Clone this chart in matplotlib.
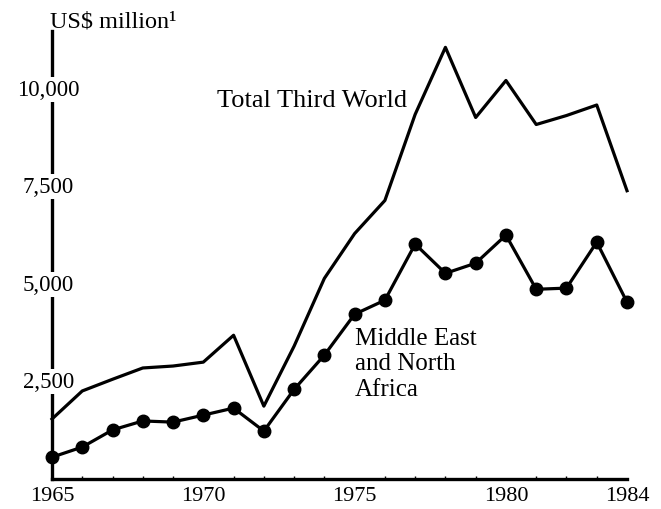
import matplotlib.pyplot as plt

# ── Données ──────────────────────────────────────────────────────────────────
YEARS = list(range(1965, 1985))
TOTAL_THIRD_WORLD = [1540, 2260, 2560, 2850, 2900, 3000, 3690, 1870, 3410, 5150,
                     6300, 7150, 9360, 11080, 9280, 10230, 9100, 9330, 9600, 7400]
MIDDLE_EAST_NA = [560, 820, 1260, 1490, 1460, 1640, 1820, 1230, 2300, 3180,
                  4230, 4590, 6030, 5280, 5540, 6260, 4870, 4900, 6080, 4540]
YTICKS = [2500, 5000, 7500, 10000]
YTICK_LABELS = ["2,500", "5,000", "7,500", "10,000"]
XTICKS = [1965, 1970, 1975, 1980, 1984]

plt.rcParams["font.family"] = ["Liberation Serif", "DejaVu Serif"]

W, H = 661, 510
fig = plt.figure(figsize=(W / 100, H / 100), dpi=100)
ax = fig.add_axes([52 / W, 30 / H, (627 - 52) / W, 448 / H])

ax.plot(YEARS, TOTAL_THIRD_WORLD, color="black", linewidth=2.3, clip_on=False)
ax.plot(YEARS, MIDDLE_EAST_NA, color="black", linewidth=2.3, marker="o",
        markersize=9, clip_on=False)

ax.set_xlim(1965, 1984)
ax.set_ylim(0, 11500)

for s in ("top", "right"):
    ax.spines[s].set_visible(False)
ax.spines["left"].set_linewidth(2.4)
ax.spines["bottom"].set_linewidth(2.4)

# ticks x
ax.set_xticks(XTICKS)
ax.set_xticklabels([str(y) for y in XTICKS], fontsize=16)
ax.tick_params(axis="x", length=0, pad=5)
ax.set_xticks(YEARS, minor=True)
ax.tick_params(axis="x", which="minor", direction="in", length=2.5, width=1.0)

# ticks y : labels centres sur l'axe, fond blanc
ax.set_yticks([])
for v, lab in zip(YTICKS, YTICK_LABELS):
    ax.text(1964.88, v, lab, ha="center", va="center", fontsize=16.5, zorder=5,
            bbox=dict(facecolor="white", edgecolor="none", pad=1.5), clip_on=False)

fig.text(50 / W, 1 - 22 / H, "US$ million\u00b9", ha="left", va="center", fontsize=17.5)

ax.text(1970.45, 9720, "Total Third World", ha="left", va="center", fontsize=19)
ax.text(1975.0, 3900, "Middle East\nand North\nAfrica", ha="left", va="top",
        fontsize=18, linespacing=1.2)

plt.savefig("out.png", dpi=100)
